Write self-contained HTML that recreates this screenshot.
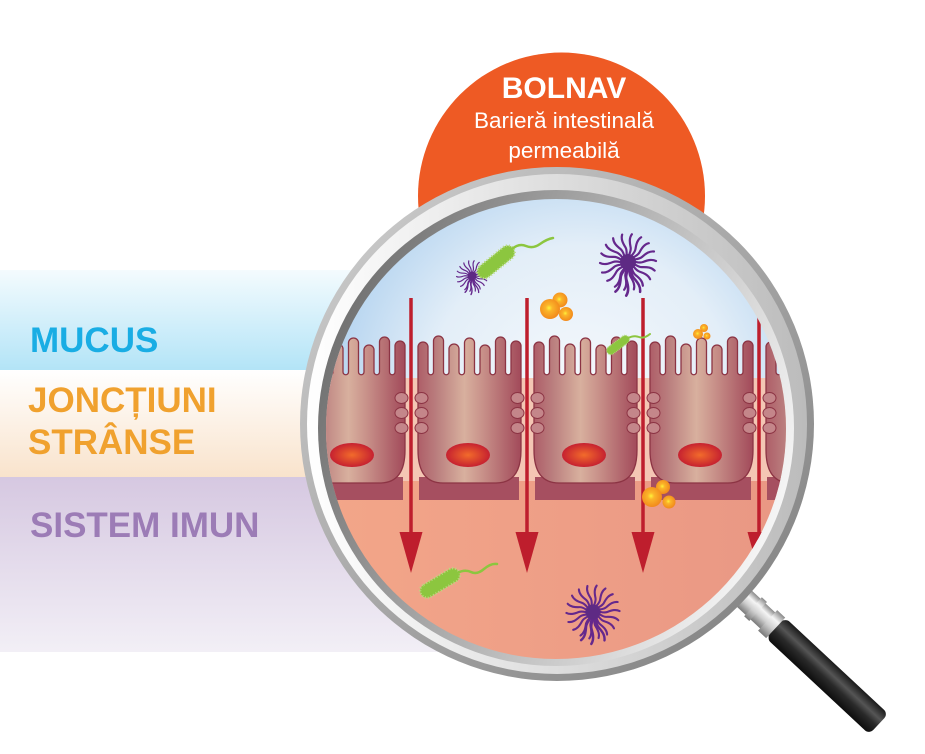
<!DOCTYPE html>
<html>
<head>
<meta charset="utf-8">
<style>
html,body{margin:0;padding:0;background:#fff;}
svg{display:block;}
text{font-family:"Liberation Sans",Arial,sans-serif;}
</style>
</head>
<body>
<svg width="925" height="754" viewBox="0 0 925 754" xmlns="http://www.w3.org/2000/svg">
<defs>
  <linearGradient id="gBlue" x1="0" y1="0" x2="0" y2="1">
    <stop offset="0" stop-color="#f4fbfe"/>
    <stop offset="1" stop-color="#b3e4f7"/>
  </linearGradient>
  <linearGradient id="gCream" x1="0" y1="0" x2="0" y2="1">
    <stop offset="0" stop-color="#ffffff"/>
    <stop offset="1" stop-color="#f9e3cc"/>
  </linearGradient>
  <linearGradient id="gPurple" x1="0" y1="0" x2="0" y2="1">
    <stop offset="0" stop-color="#d6c8e1"/>
    <stop offset="1" stop-color="#f2eff6"/>
  </linearGradient>
  <linearGradient id="rimOuter" x1="0" y1="0" x2="1" y2="1">
    <stop offset="0" stop-color="#d2d2d2"/>
    <stop offset="1" stop-color="#7c7c7c"/>
  </linearGradient>
  <linearGradient id="rimMid" x1="0" y1="0" x2="1" y2="0">
    <stop offset="0" stop-color="#ffffff"/>
    <stop offset="1" stop-color="#bcbcbc"/>
  </linearGradient>
  <linearGradient id="rimInner" x1="0" y1="0.3" x2="1" y2="0.7">
    <stop offset="0" stop-color="#6e6e6e"/>
    <stop offset="0.5" stop-color="#b4b4b4"/>
    <stop offset="1" stop-color="#fafafa"/>
  </linearGradient>
  <radialGradient id="sky" gradientUnits="userSpaceOnUse" cx="580" cy="400" r="280">
    <stop offset="0" stop-color="#f6f9fc"/>
    <stop offset="0.55" stop-color="#e3eef8"/>
    <stop offset="0.85" stop-color="#bcd8f1"/>
    <stop offset="1" stop-color="#9fc6ea"/>
  </radialGradient>
  <linearGradient id="salmon" x1="0" y1="0" x2="1" y2="0">
    <stop offset="0" stop-color="#f3a689"/>
    <stop offset="1" stop-color="#e99784"/>
  </linearGradient>
  <linearGradient id="cellg" x1="0" y1="0" x2="1" y2="0">
    <stop offset="0" stop-color="#ae5e68"/>
    <stop offset="0.18" stop-color="#ba7e7e"/>
    <stop offset="0.45" stop-color="#d8b09e"/>
    <stop offset="0.62" stop-color="#c9928a"/>
    <stop offset="1" stop-color="#a24a5a"/>
  </linearGradient>
  <radialGradient id="nuc" cx="0.5" cy="0.5" r="0.5">
    <stop offset="0" stop-color="#f26b2b"/>
    <stop offset="1" stop-color="#c62130"/>
  </radialGradient>
  <radialGradient id="ball" cx="0.45" cy="0.45" r="0.55">
    <stop offset="0" stop-color="#fff23a"/>
    <stop offset="0.3" stop-color="#fbb52a"/>
    <stop offset="1" stop-color="#f28a1c"/>
  </radialGradient>
  <linearGradient id="silver" x1="0" y1="0" x2="0" y2="1">
    <stop offset="0" stop-color="#8a8a8a"/>
    <stop offset="0.3" stop-color="#f5f5f5"/>
    <stop offset="0.6" stop-color="#cfcfcf"/>
    <stop offset="1" stop-color="#7a7a7a"/>
  </linearGradient>
  <linearGradient id="black" x1="0" y1="0" x2="0" y2="1">
    <stop offset="0" stop-color="#1a1a1a"/>
    <stop offset="0.35" stop-color="#555555"/>
    <stop offset="0.6" stop-color="#2a2a2a"/>
    <stop offset="1" stop-color="#0d0d0d"/>
  </linearGradient>
  <clipPath id="lensclip"><circle cx="556" cy="429" r="230"/></clipPath>

  <g id="cell">
    <path d="M0,450 L0,347 A5,5 0 0 1 10,347 L10,372 A2.75,2.75 0 0 0 15.5,372 L15.5,341 A5,5 0 0 1 25.5,341 L25.5,372 A2.75,2.75 0 0 0 31,372 L31,349 A5,5 0 0 1 41,349 L41,372 A2.75,2.75 0 0 0 46.5,372 L46.5,343 A5,5 0 0 1 56.5,343 L56.5,372 A2.75,2.75 0 0 0 62,372 L62,350 A5,5 0 0 1 72,350 L72,372 A2.75,2.75 0 0 0 77.5,372 L77.5,342 A5,5 0 0 1 87.5,342 L87.5,372 A2.75,2.75 0 0 0 93,372 L93,346 A5,5 0 0 1 103,346 L103,450 Q103,483 78,483 L25,483 Q0,483 0,450 Z" fill="url(#cellg)" stroke="#8c3444" stroke-width="1.3"/>
    <g fill="#c4868a" stroke="#8c3444" stroke-width="1">
      <ellipse cx="3.5" cy="398" rx="6.5" ry="5.5"/>
      <ellipse cx="3.5" cy="413" rx="6.5" ry="5.5"/>
      <ellipse cx="3.5" cy="428" rx="6.5" ry="5.5"/>
      <ellipse cx="99.5" cy="398" rx="6.5" ry="5.5"/>
      <ellipse cx="99.5" cy="413" rx="6.5" ry="5.5"/>
      <ellipse cx="99.5" cy="428" rx="6.5" ry="5.5"/>
    </g>
    <ellipse cx="50" cy="455" rx="22" ry="12" fill="url(#nuc)"/>
  </g>

  <path id="tent" d="M0,0 C6,-2 10,2 15,0 S24,-3 28,-1" fill="none" stroke="#65288c" stroke-width="2.2" stroke-linecap="round"/>
  <g id="star">
    <use href="#tent" transform="rotate(0)"/>
    <use href="#tent" transform="rotate(20)"/>
    <use href="#tent" transform="rotate(40)"/>
    <use href="#tent" transform="rotate(60)"/>
    <use href="#tent" transform="rotate(80)"/>
    <use href="#tent" transform="rotate(100)"/>
    <use href="#tent" transform="rotate(120)"/>
    <use href="#tent" transform="rotate(140)"/>
    <use href="#tent" transform="rotate(160)"/>
    <use href="#tent" transform="rotate(180)"/>
    <use href="#tent" transform="rotate(200)"/>
    <use href="#tent" transform="rotate(220)"/>
    <use href="#tent" transform="rotate(240)"/>
    <use href="#tent" transform="rotate(260)"/>
    <use href="#tent" transform="rotate(280)"/>
    <use href="#tent" transform="rotate(300)"/>
    <use href="#tent" transform="rotate(320)"/>
    <use href="#tent" transform="rotate(340)"/>
    <use href="#tent" transform="rotate(70) scale(1.15)"/>
    <use href="#tent" transform="rotate(95) scale(1.2)"/>
    <use href="#tent" transform="rotate(115) scale(1.15)"/>
    <circle cx="0" cy="0" r="8" fill="#5e2a84"/>
  </g>
  <g id="bac">
    <rect x="-22" y="-7" width="44" height="14" rx="7" fill="#8cc63f" stroke="#b9da80" stroke-width="2.5" stroke-dasharray="1 2"/>
  </g>
</defs>

<rect width="925" height="754" fill="#ffffff"/>

<!-- left bands -->
<rect x="0" y="270" width="560" height="100" fill="url(#gBlue)"/>
<rect x="0" y="370" width="560" height="107" fill="url(#gCream)"/>
<rect x="0" y="477" width="560" height="175" fill="url(#gPurple)"/>

<text x="30" y="352" font-size="35" font-weight="bold" fill="#19ade4">MUCUS</text>
<text x="28" y="412" font-size="35" font-weight="bold" fill="#f0a12e">JONCȚIUNI</text>
<text x="28" y="454" font-size="35" font-weight="bold" fill="#f0a12e">STRÂNSE</text>
<text x="30" y="537" font-size="35" font-weight="bold" fill="#9c7cb6">SISTEM IMUN</text>

<!-- orange circle -->
<circle cx="561.5" cy="196" r="143.5" fill="#ee5a24"/>
<text x="564" y="98" font-size="30" font-weight="bold" fill="#ffffff" text-anchor="middle">BOLNAV</text>
<text x="564" y="128" font-size="22.5" fill="#ffffff" text-anchor="middle">Barieră intestinală</text>
<text x="564" y="158" font-size="22.5" fill="#ffffff" text-anchor="middle">permeabilă</text>

<!-- handle -->
<g transform="translate(557,424) rotate(43)">
  <rect x="245" y="-11" width="56" height="22" fill="url(#silver)"/>
  <rect x="268" y="-13" width="7" height="26" fill="url(#silver)"/>
  <rect x="288" y="-14" width="11" height="28" fill="url(#silver)"/>
  <rect x="299" y="-14" width="141" height="28" rx="6" fill="url(#black)"/>
</g>

<!-- lens rim -->
<circle cx="557" cy="424" r="257" fill="url(#rimOuter)"/>
<circle cx="557" cy="424" r="250" fill="url(#rimMid)"/>
<circle cx="556" cy="428" r="238" fill="url(#rimInner)"/>

<!-- lens content -->
<g clip-path="url(#lensclip)">
  <rect x="320" y="190" width="480" height="200" fill="url(#sky)"/>
  <rect x="320" y="378" width="480" height="104" fill="#f4c6b4"/>
  <rect x="320" y="481" width="480" height="220" fill="url(#salmon)"/>

  <g fill="#a64f60">
    <rect x="303" y="477" width="100" height="23"/>
    <rect x="419" y="477" width="100" height="23"/>
    <rect x="535" y="477" width="100" height="23"/>
    <rect x="651" y="477" width="100" height="23"/>
    <rect x="767" y="477" width="100" height="23"/>
  </g>

  <use href="#cell" x="302"/>
  <use href="#cell" x="418"/>
  <use href="#cell" x="534"/>
  <use href="#cell" x="650"/>
  <use href="#cell" x="766"/>

  <!-- arrows -->
  <g stroke="#be1e2d" stroke-width="3.5">
    <line x1="411" y1="298" x2="411" y2="540"/>
    <line x1="527" y1="298" x2="527" y2="540"/>
    <line x1="643" y1="298" x2="643" y2="540"/>
    <line x1="759" y1="317" x2="759" y2="540"/>
  </g>
  <g fill="#be1e2d">
    <polygon points="399.5,532 422.5,532 411,573"/>
    <polygon points="515.5,532 538.5,532 527,573"/>
    <polygon points="631.5,532 654.5,532 643,573"/>
    <polygon points="747.5,532 770.5,532 759,573"/>
  </g>

  <!-- critters -->
  <use href="#star" transform="translate(472,276) scale(0.55)"/>
  <g transform="translate(496,262) rotate(-39)"><use href="#bac"/></g>
  <path d="M512,249 q7,-6 14,-3 t14,-2 t13,-6" fill="none" stroke="#8cc63f" stroke-width="2.5" stroke-linecap="round"/>
  <use href="#star" transform="translate(628,262)"/>

  <circle cx="560" cy="300" r="7.5" fill="url(#ball)"/>
  <circle cx="550" cy="309" r="10" fill="url(#ball)"/>
  <circle cx="566" cy="314" r="7" fill="url(#ball)"/>

  <g transform="translate(618,345) rotate(-37) scale(0.6)"><use href="#bac"/></g>
  <path d="M628,338 q6,-3 11,-1 t11,-3" fill="none" stroke="#8cc63f" stroke-width="2" stroke-linecap="round"/>

  <circle cx="704" cy="328" r="4" fill="url(#ball)"/>
  <circle cx="698" cy="334" r="5" fill="url(#ball)"/>
  <circle cx="707" cy="336" r="3.5" fill="url(#ball)"/>

  <circle cx="663" cy="487" r="7" fill="url(#ball)"/>
  <circle cx="652" cy="497" r="10" fill="url(#ball)"/>
  <circle cx="669" cy="502" r="6.5" fill="url(#ball)"/>

  <g transform="translate(440,583) rotate(-31)"><use href="#bac"/></g>
  <path d="M457,573 q8,-4 14,-1 t13,-3 t13,-5" fill="none" stroke="#8cc63f" stroke-width="2.5" stroke-linecap="round"/>

  <use href="#star" transform="translate(593,612) scale(0.95)"/>
</g>
</svg>
</body>
</html>
